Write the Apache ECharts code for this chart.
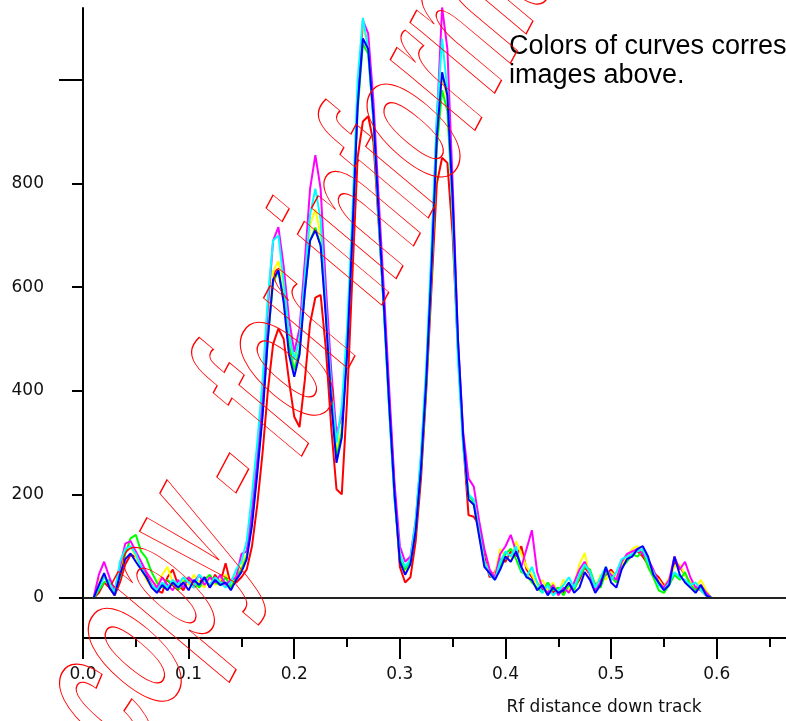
<!DOCTYPE html>
<html><head><meta charset="utf-8">
<script src="https://cdn.jsdelivr.net/npm/echarts@6/dist/echarts.min.js"></script>
<style>html,body{margin:0;padding:0;background:#fff}#c{width:786px;height:721px}</style>
</head><body><div id="c"></div>
<script>
// Rf positions (x) shared by all traces
const rf = [0.010,0.015,0.020,0.025,0.030,0.035,0.040,0.045,0.050,0.055,0.060,0.065,0.070,0.075,0.080,0.085,0.090,0.095,0.100,0.105,0.110,0.115,0.120,0.125,0.130,0.135,0.140,0.145,0.150,
0.155,0.160,0.165,0.170,0.175,0.180,0.185,0.190,0.195,0.200,0.205,0.210,0.215,0.220,0.225,0.230,0.235,0.240,0.245,0.250,0.255,0.260,0.265,0.270,0.275,0.280,0.285,0.290,0.295,0.300,0.305,0.310,0.315,0.320,0.325,0.330,0.335,0.340,0.345,0.350,0.355,0.360,0.365,0.370,0.375,0.380,
0.385,0.390,0.395,0.400,0.405,0.410,0.415,0.420,0.425,0.430,0.435,0.440,0.445,0.450,0.455,0.460,0.465,0.470,0.475,0.480,0.485,0.490,0.495,0.500,0.505,0.510,0.515,0.520,0.525,0.530,0.535,0.540,0.545,0.550,0.555,0.560,0.565,0.570,0.575,0.580,0.585,0.590,0.595];

const redTrace = [0,10,30,20,5,30,65,83,80,60,45,25,15,10,40,55,25,15,35,20,30,40,20,45,30,67,25,30,40,
55,100,180,280,400,490,520,500,420,350,330,420,530,580,585,480,330,210,200,380,620,850,920,930,880,720,560,380,210,60,30,40,110,230,400,600,800,850,840,700,480,300,160,157,140,80,
40,50,75,70,90,80,100,55,40,30,15,25,10,20,10,25,20,35,60,45,25,35,45,55,40,60,75,85,90,80,65,50,40,25,30,70,60,45,30,20,15,5,0];

const yellowTrace = [0,35,45,25,5,50,90,100,80,55,35,20,30,45,60,30,20,35,25,45,30,20,40,25,35,45,25,45,60,
85,160,260,370,520,630,650,600,520,470,510,620,720,750,700,560,400,280,330,490,720,970,1100,1070,930,740,560,370,200,80,50,70,140,260,420,640,880,1010,960,760,490,310,190,180,120,70,
50,45,95,80,70,110,85,60,45,25,35,15,30,10,36,15,25,65,87,40,20,45,35,50,40,65,80,95,100,90,70,45,35,20,40,60,65,45,30,20,35,15,0];

const greenTrace = [0,15,30,35,15,40,85,115,122,90,77,50,30,20,35,25,15,30,40,30,20,35,45,30,25,40,20,40,55,
80,150,250,360,500,610,630,580,490,440,480,590,690,715,680,550,390,270,320,480,700,940,1070,1050,920,730,550,360,190,75,55,70,130,250,410,630,870,980,940,750,480,300,200,185,125,65,
50,40,60,85,95,75,50,45,30,20,10,30,15,20,5,25,15,40,60,55,25,20,50,40,30,60,70,85,80,90,60,40,15,10,25,45,35,50,25,15,20,10,0];

const cyanTrace = [0,20,40,30,10,70,95,100,85,60,40,25,15,30,20,35,25,40,30,20,45,35,25,40,30,20,30,55,70,
110,200,300,420,580,690,700,610,510,460,500,620,740,790,730,560,410,300,370,520,740,1000,1120,1060,920,730,550,360,190,85,60,75,150,280,450,680,930,1080,980,740,460,290,200,190,130,70,
45,35,70,90,80,100,55,40,60,30,10,25,5,15,25,40,20,45,65,50,20,40,60,35,50,75,80,85,90,95,70,50,25,15,30,50,40,35,25,30,15,5,0];

const blueTrace = [0,25,48,20,5,45,75,86,70,55,40,20,10,25,15,30,20,30,15,35,25,40,20,35,25,30,15,35,50,
75,140,240,350,500,615,633,570,470,427,470,590,690,710,680,540,380,261,310,470,700,950,1080,1060,930,740,560,370,200,70,45,65,130,250,420,640,890,1015,970,770,500,310,190,180,120,60,
48,35,55,80,70,90,60,40,35,15,25,5,20,10,15,30,10,20,50,35,10,25,60,30,20,55,75,80,95,100,80,45,30,15,25,80,45,30,20,10,25,5,0];

const magentaTrace = [0,45,70,40,15,60,105,110,90,70,50,35,20,40,25,15,35,20,40,30,45,25,40,30,45,25,35,40,85,
90,170,270,390,560,690,716,640,540,475,520,650,790,855,790,600,440,318,350,480,700,960,1115,1090,960,770,590,400,220,100,70,80,150,270,430,660,920,1140,1060,800,500,320,231,215,150,95,
55,40,85,100,122,90,60,95,131,50,20,10,25,5,20,10,30,55,70,45,15,30,55,45,35,70,85,90,95,85,75,55,30,20,35,80,55,70,40,20,25,10,0];

// axis ticks / labels
const yLabelValues = [0,200,400,600,800];
const yMinorTicks = [200,400,600,800];
const yMajorTicks = [0,1000];
const xMajorTicks = [0,0.1,0.2,0.3,0.4,0.5,0.6];
const xMinorTicks = [0.05,0.15,0.25,0.35,0.45,0.55,0.65];
const xLabelValues = [0,0.1,0.2,0.3,0.4,0.5,0.6];

const traces = [
  {name:'red', color:'#ff0000', data:redTrace},
  {name:'yellow', color:'#ffff00', data:yellowTrace},
  {name:'green', color:'#00ff00', data:greenTrace},
  {name:'magenta', color:'#ff00ff', data:magentaTrace},
  {name:'cyan', color:'#00ffff', data:cyanTrace},
  {name:'blue', color:'#0000ff', data:blueTrace}
];

const black = {color:'#000', width:2};
const YMIN = -77.2, YMAX = 1139;
const XMIN = 0, XMAX = 0.6656;
const deg = Math.PI / 180;

const chart = echarts.init(document.getElementById('c'));
const series = traces.map((t, k) => ({
  type:'line', name:t.name, showSymbol:false, animation:false,
  data: rf.map((x, i) => [x, t.data[i]]),
  lineStyle:{color:t.color, width:2}, itemStyle:{color:t.color},
  z: 2 + k,
  markLine: k === 0 ? {silent:true, symbol:['none','none'], label:{show:false},
    lineStyle:{color:'#222', width:2, type:'solid'}, data:[{yAxis:0}], z:10} : undefined
}));

chart.setOption({
  animation:false,
  backgroundColor:'#fff',
  grid:{left:83, top:8, right:0, height:630},
  xAxis:[
    {type:'value', min:XMIN, max:XMAX, position:'bottom',
     axisLine:{onZero:false, lineStyle:black},
     axisTick:{customValues:xMajorTicks, length:21, lineStyle:black},
     axisLabel:{customValues:xLabelValues, formatter:v => v.toFixed(1), margin:28,
       fontFamily:'DejaVu Sans', fontSize:17, color:'#111'},
     splitLine:{show:false}},
    {type:'value', min:XMIN, max:XMAX, position:'bottom',
     axisLine:{show:false, onZero:false},
     axisTick:{customValues:xMinorTicks, length:9, lineStyle:black},
     axisLabel:{show:false}, splitLine:{show:false}}
  ],
  yAxis:[
    {type:'value', min:YMIN, max:YMAX, position:'left',
     axisLine:{show:true, onZero:false, lineStyle:black},
     axisTick:{show:true, customValues:yMinorTicks, length:11, lineStyle:black},
     axisLabel:{customValues:yLabelValues, margin:39, fontFamily:'DejaVu Sans', fontSize:17, color:'#111'},
     splitLine:{show:false}},
    {type:'value', min:YMIN, max:YMAX, position:'left',
     axisLine:{show:false, onZero:false},
     axisTick:{show:true, customValues:yMajorTicks, length:24, lineStyle:black},
     axisLabel:{show:false}, splitLine:{show:false}}
  ],
  series: series,
  graphic:[
    {type:'text', x:604, y:708, z:50,
     style:{text:'Rf distance down track', fontFamily:'DejaVu Sans', fontSize:17, fill:'#111',
       align:'center', verticalAlign:'middle', textAlign:'center', textVerticalAlign:'middle'}},
    {type:'text', x:509, y:47, z:50,
     style:{text:'Colors of curves correspond to', fontFamily:'Liberation Sans', fontSize:27, fill:'#000',
       align:'left', verticalAlign:'middle', textAlign:'left', textVerticalAlign:'middle'}},
    {type:'text', x:509, y:76, z:50,
     style:{text:'images above.', fontFamily:'Liberation Sans', fontSize:27, fill:'#000',
       align:'left', verticalAlign:'middle', textAlign:'left', textVerticalAlign:'middle'}},
    {type:'group', x:89.3, y:735.6, rotation:45.9*deg, scaleX:0.9706, scaleY:1.9449, z:100, silent:true,
     children:[
       {type:'text', x:0, y:0, rotation:8.2*deg, z:100, silent:true,
        style:{text:'copy - for information', fontFamily:'Liberation Sans', fontWeight:'bold', fontSize:108,
          fill:'rgba(0,0,0,0)', stroke:'#ff0000', lineWidth:0.75,
          align:'left', verticalAlign:'middle', textAlign:'left', textVerticalAlign:'middle'}}
     ]}
  ]
});
</script></body></html>
